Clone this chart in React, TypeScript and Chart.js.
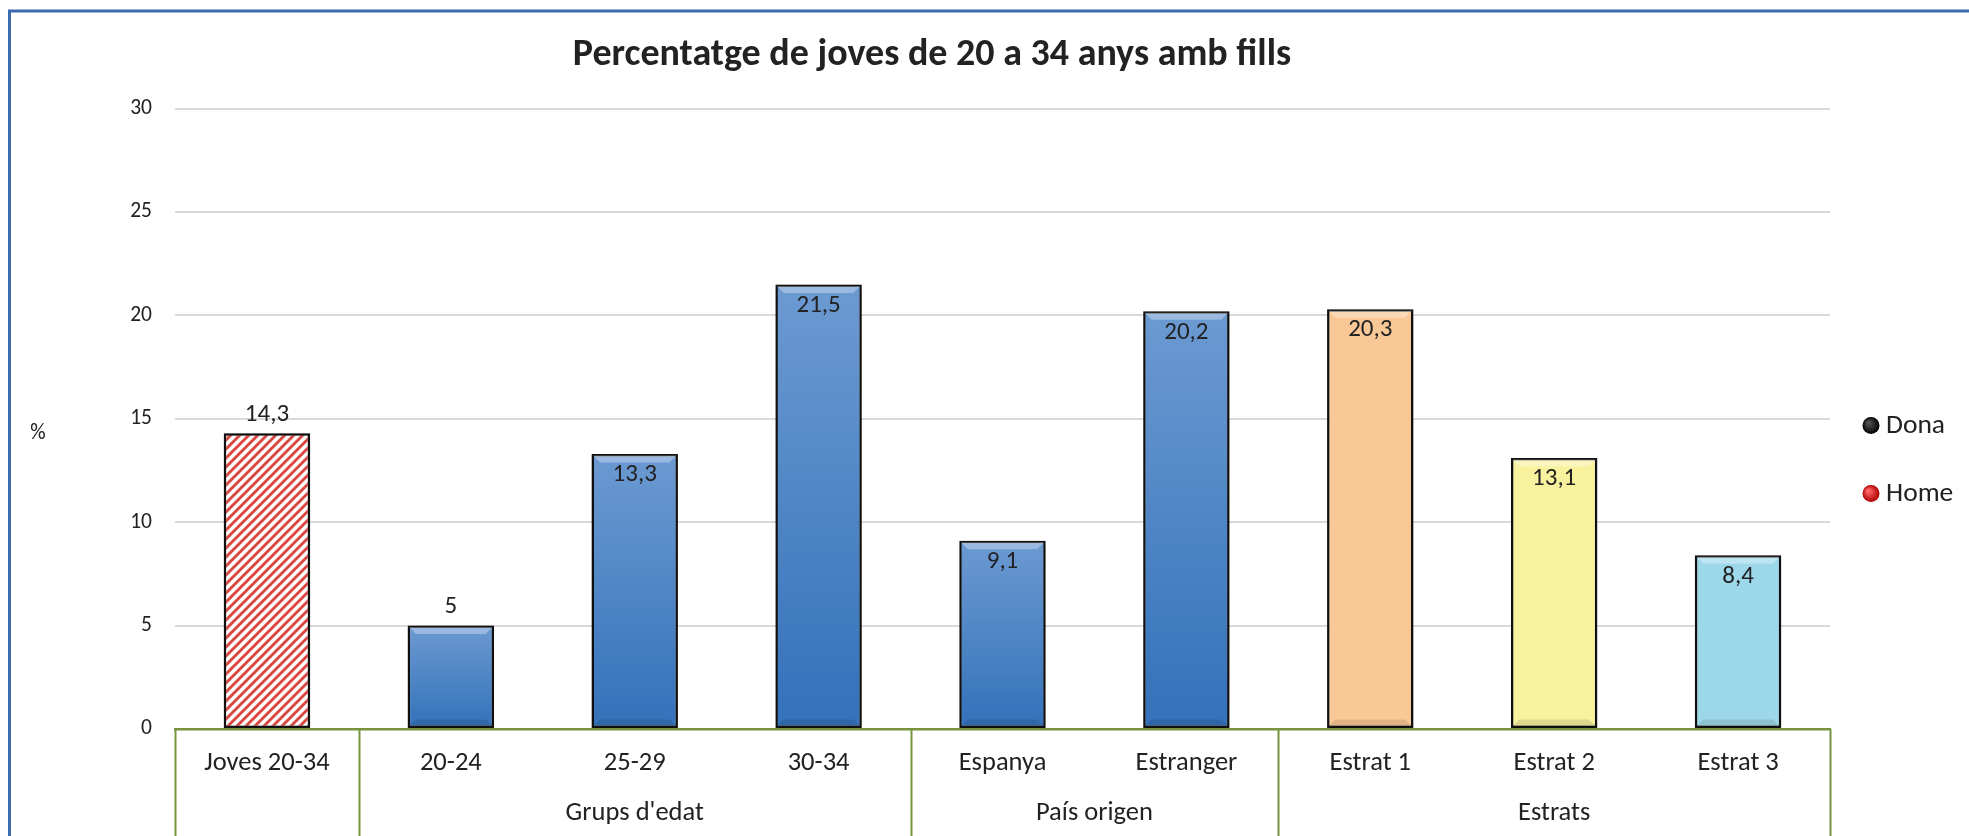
import React, { useEffect, useRef } from 'react';
import { Chart, registerables } from 'chart.js';

Chart.register(...registerables);

const titleText = 'Percentatge de joves de 20 a 34 anys amb fills';
const categories = ['Joves 20-34', '20-24', '25-29', '30-34', 'Espanya', 'Estranger', 'Estrat 1', 'Estrat 2', 'Estrat 3'];
const values = [14.3, 5, 13.3, 21.5, 9.1, 20.2, 20.3, 13.1, 8.4];
const barKinds = ['hatch', 'blue', 'blue', 'blue', 'blue', 'blue', 'orange', 'yellow', 'cyan'];
const outsideLabelCategories = ['Joves 20-34', '20-24'];
const groupLabels = ['', "Grups d'edat", 'País origen', 'Estrats'];
const groupStarts = [0, 1, 4, 6];
const groupEnds = [0, 3, 5, 8];
const legendLabels = ['Dona', 'Home'];
const yAxisLabel = '%';
const yMin = 0;
const yMax = 30;
const yStep = 5;

const FONT = "Carlito, Lato, 'Open Sans', sans-serif";
const TEXT = '#222222';
const GREEN = '#77933C';

function fmt(v: number) {
  return String(v).replace('.', ',');
}

function makeHatch(): CanvasPattern | string {
  const c = document.createElement('canvas');
  const s = 9;
  c.width = s;
  c.height = s;
  const p = c.getContext('2d');
  if (!p) return '#E06060';
  p.fillStyle = '#ffffff';
  p.fillRect(0, 0, s, s);
  p.strokeStyle = '#DA4640';
  p.lineWidth = 2.9;
  p.beginPath();
  p.moveTo(-2, s + 2);
  p.lineTo(s + 2, -2);
  p.moveTo(-2, 2);
  p.lineTo(2, -2);
  p.moveTo(s - 2, s + 2);
  p.lineTo(s + 2, s - 2);
  p.stroke();
  const pat = p.createPattern(c, 'repeat');
  return pat || '#E06060';
}

const flatColors: Record<string, string> = {
  orange: '#FAC896',
  yellow: '#F8F19D',
  cyan: '#9DD8EA',
};

const decorPlugin = {
  id: 'decor',
  beforeDraw(chart: any) {
    const { ctx } = chart;
    ctx.save();
    ctx.fillStyle = '#ffffff';
    ctx.fillRect(0, 0, chart.width, chart.height);
    ctx.strokeStyle = '#3D6BB0';
    ctx.lineWidth = 3;
    ctx.beginPath();
    ctx.moveTo(9.5, chart.height);
    ctx.lineTo(9.5, 11);
    ctx.lineTo(chart.width, 11);
    ctx.stroke();
    ctx.restore();
  },
  beforeDatasetsDraw(chart: any) {
    const { ctx } = chart;
    ctx.save();
    ctx.shadowColor = 'rgba(0,0,0,0.35)';
    ctx.shadowBlur = 7;
    ctx.shadowOffsetX = 0;
    ctx.shadowOffsetY = 0;
  },
  afterDatasetsDraw(chart: any) {
    const { ctx } = chart;
    ctx.restore();
    const meta = chart.getDatasetMeta(0);
    ctx.save();
    meta.data.forEach((bar: any, i: number) => {
      const props = bar.getProps(['x', 'y', 'base', 'width'], true);
      const left = props.x - props.width / 2 + 1.5;
      const right = props.x + props.width / 2 - 1.5;
      const top = Math.min(props.y, props.base) + 1.5;
      const bottom = Math.max(props.y, props.base) - 1.5;
      if (barKinds[i] !== 'hatch') {
        const b = 7;
        ctx.fillStyle = 'rgba(255,255,255,0.32)';
        ctx.beginPath();
        ctx.moveTo(left, top);
        ctx.lineTo(right, top);
        ctx.lineTo(right - b, top + b);
        ctx.lineTo(left + b, top + b);
        ctx.closePath();
        ctx.fill();
        ctx.fillStyle = 'rgba(0,0,0,0.10)';
        ctx.beginPath();
        ctx.moveTo(left, bottom);
        ctx.lineTo(right, bottom);
        ctx.lineTo(right - b, bottom - b);
        ctx.lineTo(left + b, bottom - b);
        ctx.closePath();
        ctx.fill();
      }
      ctx.fillStyle = TEXT;
      ctx.font = `25px ${FONT}`;
      ctx.textAlign = 'center';
      ctx.textBaseline = 'middle';
      const outside = outsideLabelCategories.includes(categories[i]);
      const ty = outside ? props.y - 19 : props.y + 21;
      ctx.fillText(fmt(values[i]), props.x, ty);
    });
    ctx.restore();
  },
  afterDraw(chart: any) {
    const { ctx, chartArea } = chart;
    const xs = chart.scales.x;
    const n = categories.length;
    const boundary = (i: number) => {
      if (i <= 0) return chartArea.left;
      if (i >= n) return chartArea.right;
      return (xs.getPixelForValue(i - 1) + xs.getPixelForValue(i)) / 2;
    };
    ctx.save();
    ctx.strokeStyle = GREEN;
    ctx.lineWidth = 2;
    const seps = [...groupStarts, n];
    seps.forEach((i) => {
      const x = Math.round(boundary(i)) + 0.5;
      ctx.beginPath();
      ctx.moveTo(x, chartArea.bottom);
      ctx.lineTo(x, chart.height);
      ctx.stroke();
    });
    ctx.fillStyle = TEXT;
    ctx.font = `26.5px ${FONT}`;
    ctx.textAlign = 'center';
    ctx.textBaseline = 'middle';
    groupLabels.forEach((lab, g) => {
      if (!lab) return;
      const cx = (boundary(groupStarts[g]) + boundary(groupEnds[g] + 1)) / 2;
      ctx.fillText(lab, cx, chartArea.bottom + 84);
    });
    ctx.font = `21.5px ${FONT}`;
    ctx.fillText(yAxisLabel, 38, (chartArea.top + chartArea.bottom) / 2 + 15);
    legendLabels.forEach((lab, k) => {
      const cx = chartArea.right + 41;
      const cy = chartArea.top + 317 + k * 68;
      const r = 8.5;
      const grad = ctx.createRadialGradient(cx - 3, cy - 3, 1, cx, cy, r);
      if (k === 0) {
        grad.addColorStop(0, '#555555');
        grad.addColorStop(1, '#000000');
      } else {
        grad.addColorStop(0, '#FF6A6A');
        grad.addColorStop(1, '#B00000');
      }
      ctx.fillStyle = grad;
      ctx.beginPath();
      ctx.arc(cx, cy, r, 0, Math.PI * 2);
      ctx.fill();
      ctx.fillStyle = TEXT;
      ctx.font = `27.5px ${FONT}`;
      ctx.textAlign = 'left';
      ctx.fillText(lab, cx + 15, cy + 1);
    });
    ctx.restore();
  },
};

export default function App() {
  const ref = useRef<HTMLCanvasElement | null>(null);
  useEffect(() => {
    if (!ref.current) return;
    const hatch = makeHatch();
    const chart = new Chart(ref.current, {
      type: 'bar',
      data: {
        labels: categories,
        datasets: [
          {
            label: 'Percentatge',
            data: values,
            backgroundColor: (c: any) => {
              const i = c.dataIndex;
              if (i === undefined) return '#4F86C6';
              const kind = barKinds[i];
              if (kind === 'hatch') return hatch;
              if (kind === 'blue') {
                const chartObj = c.chart;
                const ys = chartObj.scales && chartObj.scales.y;
                if (!ys || !chartObj.chartArea) return '#4F86C6';
                const top = ys.getPixelForValue(values[i]);
                const bottom = ys.getPixelForValue(0);
                const g = chartObj.ctx.createLinearGradient(0, top, 0, bottom);
                g.addColorStop(0, '#6C9AD2');
                g.addColorStop(1, '#3371BA');
                return g;
              }
              return flatColors[kind];
            },
            borderColor: '#111111',
            borderWidth: 2.5,
            borderSkipped: false,
            categoryPercentage: 1,
            barPercentage: 0.47,
          },
        ],
      },
      options: {
        responsive: false,
        animation: false,
        devicePixelRatio: 1,
        layout: { padding: { left: 34, right: 139, top: 0, bottom: 0 } },
        plugins: {
          legend: { display: false },
          tooltip: { enabled: false },
          title: {
            display: true,
            text: titleText,
            color: TEXT,
            font: { family: FONT, size: 38, weight: 'bold', lineHeight: 1.2 },
            padding: { top: 32.5, bottom: 30.5 },
          },
        },
        scales: {
          x: {
            afterFit: (s: any) => {
              s.height = 107;
            },
            grid: { display: false, drawTicks: false },
            border: { display: true, color: GREEN, width: 2.5 },
            ticks: {
              color: TEXT,
              font: { family: FONT, size: 26.5 },
              padding: 18,
              maxRotation: 0,
              autoSkip: false,
            },
          },
          y: {
            min: yMin,
            max: yMax,
            afterFit: (s: any) => {
              s.width = 141;
            },
            grid: {
              drawTicks: false,
              color: (c: any) => (c.tick && c.tick.value === 0 ? 'rgba(0,0,0,0)' : '#D9D9D9'),
              lineWidth: 2,
            },
            border: { display: false },
            ticks: {
              stepSize: yStep,
              color: TEXT,
              font: { family: FONT, size: 21.5 },
              padding: 23,
            },
          },
        },
      },
      plugins: [decorPlugin],
    });
    return () => chart.destroy();
  }, []);
  return (
    <div style={{ position: 'absolute', left: 0, top: 0, width: 1969, height: 836, background: '#fff' }}>
      <canvas ref={ref} width={1969} height={836} style={{ display: 'block' }} />
    </div>
  );
}
